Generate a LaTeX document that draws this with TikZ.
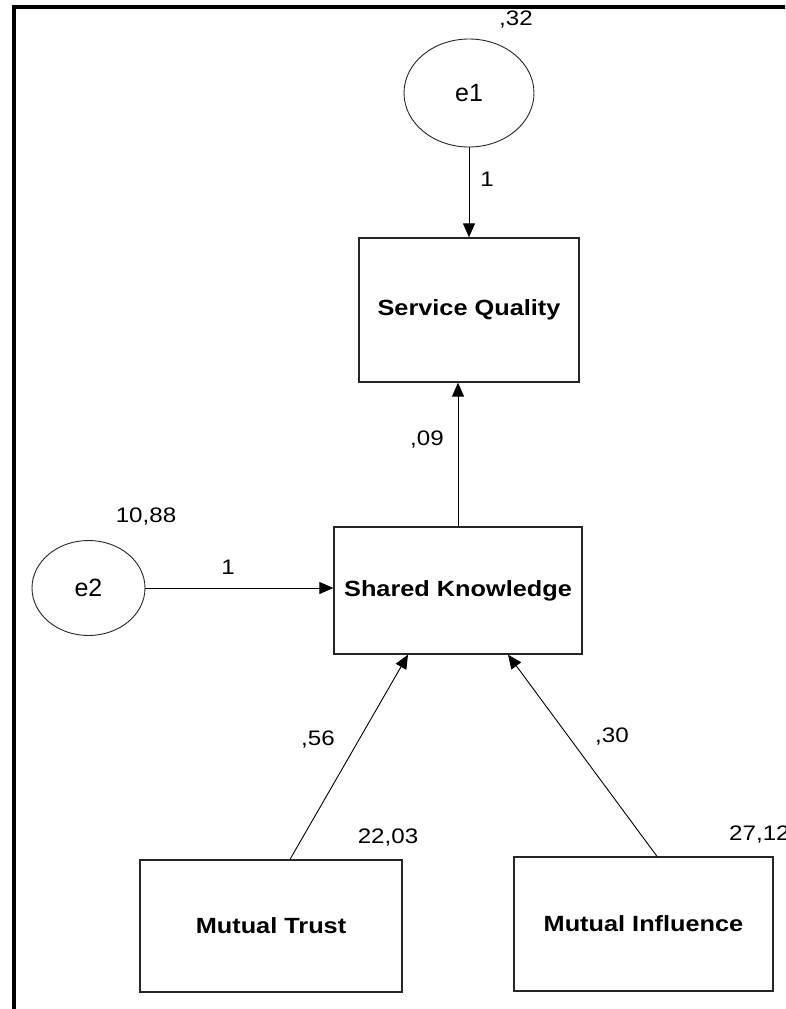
\documentclass[tikz,border=0pt]{standalone}
\usepackage{fontspec}
\setmainfont{Liberation Sans}[FakeStretch=1.15]
\newfontfamily\plainsans{Liberation Sans}
\usetikzlibrary{arrows.meta,shapes.geometric}

\tikzset{
  varbox/.style={draw=black!85, line width=1.3pt, rectangle, inner sep=0pt,
    font=\fontsize{22}{24}\selectfont\bfseries},
  errnode/.style={draw=black!85, line width=0.9pt, ellipse, inner sep=0pt,
    font=\plainsans\fontsize{25}{28}\selectfont},
  coef/.style={inner sep=0pt, font=\fontsize{21}{24}\selectfont},
  path/.style={draw, line width=0.9pt, -{Triangle[length=14pt,width=12pt]}},
  frame/.style={line width=4pt, line cap=rect}
}

\begin{document}
\begin{tikzpicture}[x=1pt, y=-1pt]
  \useasboundingbox (0,0) rectangle (785,1009);
  \clip (0,0) rectangle (785,1009);

  % outer frame (top and left edges)
  \draw[frame] (14,1012) -- (14,7) -- (790,7);

  % error terms
  \node[errnode, minimum width=130pt, minimum height=108pt] (e1) at (469,93) {e1};
  \node[errnode, minimum width=113pt, minimum height=95pt] (e2) at (88.5,588) {e2};

  % observed variables
  \node[varbox, minimum width=220pt, minimum height=144pt] (SQ) at (469,310) {Service Quality};
  \node[varbox, minimum width=248pt, minimum height=127pt] (SK) at (458,590.5) {Shared Knowledge};
  \node[varbox, minimum width=262pt, minimum height=132pt] (MT) at (271,926) {Mutual Trust};
  \node[varbox, minimum width=259pt, minimum height=134pt] (MI) at (643.5,924) {Mutual Influence};

  % attachment points for the predictor paths
  \coordinate (mtout) at ([xshift=19pt]MT.north);
  \coordinate (miout) at ([xshift=13.5pt]MI.north);
  \coordinate (skinl) at ([xshift=-50pt]SK.south);
  \coordinate (skinr) at ([xshift=50pt]SK.south);

  % paths
  \draw[path] (e1.south) -- (SQ.north);
  \draw[path] (SK.north) -- (SK.north |- SQ.south);
  \draw[path] (e2.east) -- (e2.east -| SK.west);
  \draw[path] (mtout) -- (skinl);
  \draw[path] (miout) -- (skinr);

  % estimates
  \node[coef] (v32) at (516,20) {,32};
  \node[coef] (w1) at (487,179) {1};
  \node[coef] (w09) at (427,440) {,09};
  \node[coef] (v1088) at (146,517) {10,88};
  \node[coef] (w2) at (228,567) {1};
  \node[coef] (w56) at (318,740) {,56};
  \node[coef] (w30) at (612,737) {,30};
  \node[coef] (v2203) at (388,838) {22,03};
  \node[coef, anchor=west] (v2712) at (729,835) {27,12};
\end{tikzpicture}
\end{document}
